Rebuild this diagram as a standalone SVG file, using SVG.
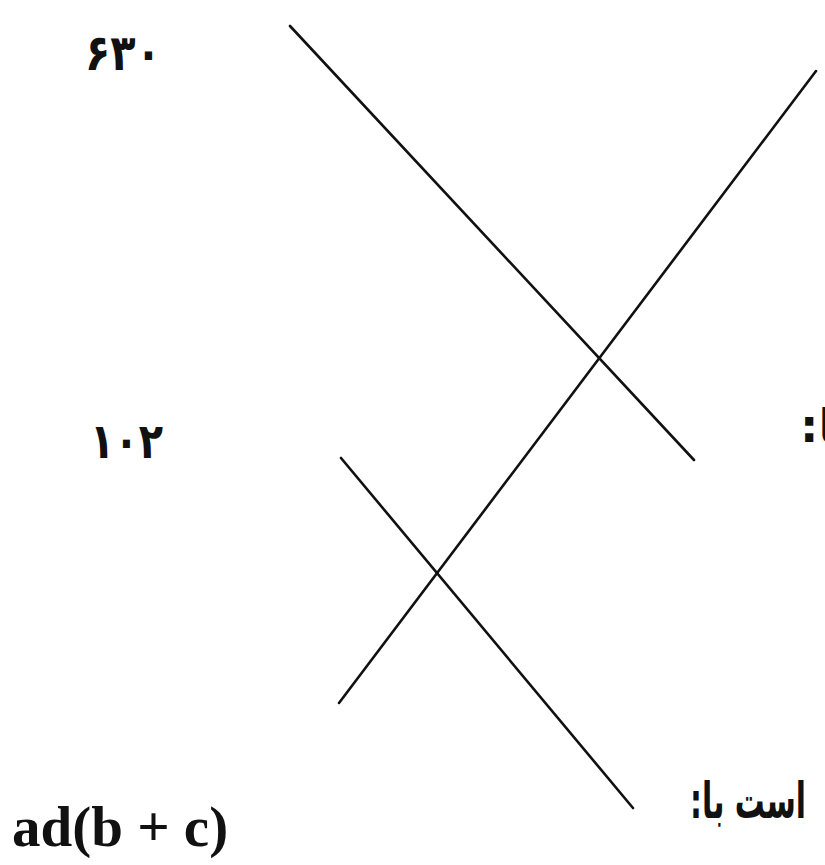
<svg xmlns="http://www.w3.org/2000/svg" width="825" height="865" viewBox="0 0 825 865">
<style>
.ln{stroke:#111;stroke-width:2.6;fill:none;stroke-linecap:round}
.fa{font-family:"DejaVu Sans","Noto Sans",sans-serif;font-weight:bold;fill:#111}
.en{font-family:"Liberation Serif","Times New Roman",serif;font-weight:bold;fill:#111}
</style>
<rect width="825" height="865" fill="#fff"/>
<g id="connectors">
<line class="ln" x1="290" y1="26" x2="694" y2="460"/>
<line class="ln" x1="816" y1="71" x2="339" y2="703"/>
<line class="ln" x1="341" y1="458" x2="633" y2="808"/>
</g>
<g id="label-630"><text class="fa" x="85" y="70" font-size="50" textLength="76" lengthAdjust="spacingAndGlyphs">۶۳۰</text></g>
<g id="label-102"><text class="fa" x="90" y="458" font-size="49" textLength="73" lengthAdjust="spacingAndGlyphs">۱۰۲</text></g>
<g id="label-expr"><text class="en" x="12" y="846" font-size="57">ad(b + c)</text></g>
<g id="label-top-right"><text class="fa" x="800" y="442" font-size="46" direction="rtl" unicode-bidi="embed" text-anchor="end">با:</text></g>
<g id="label-bottom-right"><text class="fa" x="690" y="818" font-size="50" direction="rtl" unicode-bidi="embed" text-anchor="end" textLength="116" lengthAdjust="spacingAndGlyphs">است با:</text></g>
</svg>
